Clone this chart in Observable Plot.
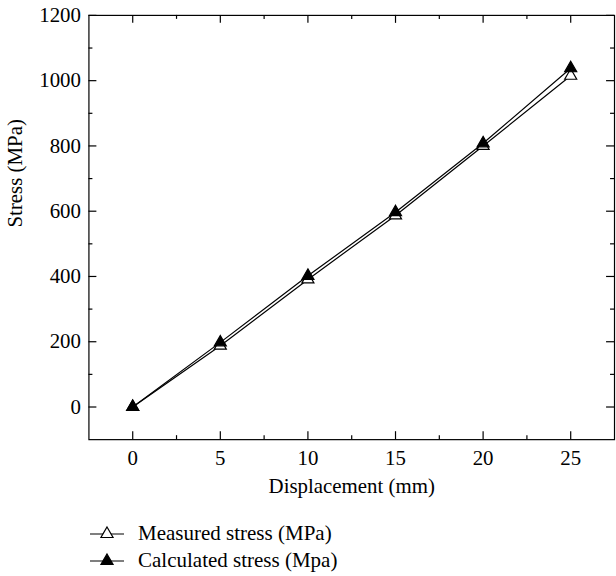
<!DOCTYPE html>
<html><head><meta charset="utf-8">
<script src="https://cdn.jsdelivr.net/npm/d3@7"></script>
<script src="https://cdn.jsdelivr.net/npm/@observablehq/plot@0.6"></script>
<style>
html,body{margin:0;padding:0;background:#fff;overflow:hidden;width:616px;height:576px}
#chart svg{display:block}
.legend{margin-left:89px;margin-top:13px;font-family:"Liberation Serif","DejaVu Serif",serif;font-size:21px;color:#000}
.row{display:flex;align-items:center;height:27px;white-space:nowrap}
.row svg{margin-right:13px;display:block}
</style></head><body><div id="chart"></div><div class="legend" id="legend"></div><script>
const displacement = [0, 5, 10, 15, 20, 25];
const measured = [0, 188, 391, 587, 800, 1015];
const calculated = [0, 198, 402, 597, 808, 1038];
const xMajor = [0, 5, 10, 15, 20, 25];
const xMinor = [2.5, 7.5, 12.5, 17.5, 22.5];
const yMajor = [0, 200, 400, 600, 800, 1000, 1200];
const yMinor = [100, 300, 500, 700, 900, 1100];
const seriesNames = ["Measured stress (MPa)", "Calculated stress (Mpa)"];
const xLabel = "Displacement (mm)";
const yLabel = "Stress (MPa)";

const FONT = '"Liberation Serif","DejaVu Serif",serif';
const W = 620, H = 510, mL = 89, mR = 2, mT = 15, mB = 68;
const FW = W - mL - mR, FH = H - mT - mB;
const MAJ = 8, MIN = 4, SW = 1.2;

const measData = displacement.map((d, i) => ({x: d, y: measured[i]}));
const calcData = displacement.map((d, i) => ({x: d, y: calculated[i]}));

const plot = Plot.plot({
  width: W, height: H,
  marginLeft: mL, marginRight: mR, marginTop: mT, marginBottom: mB,
  style: {fontFamily: FONT, fontSize: "21px", color: "black", background: "white", overflow: "visible"},
  x: {domain: [-2.5, 27.5], axis: null},
  y: {domain: [-100, 1200], axis: null},
  marks: [
    Plot.frame({stroke: "black", strokeWidth: SW}),
    Plot.tickX(xMajor, {x: d => d, stroke: "black", strokeWidth: SW, insetTop: FH - MAJ}),
    Plot.tickX(xMinor, {x: d => d, stroke: "black", strokeWidth: SW, insetTop: FH - MIN}),
    Plot.tickX(xMajor, {x: d => d, stroke: "black", strokeWidth: SW, insetBottom: FH - MAJ}),
    Plot.tickX(xMinor, {x: d => d, stroke: "black", strokeWidth: SW, insetBottom: FH - MIN}),
    Plot.tickY(yMajor, {y: d => d, stroke: "black", strokeWidth: SW, insetRight: FW - MAJ}),
    Plot.tickY(yMinor, {y: d => d, stroke: "black", strokeWidth: SW, insetRight: FW - MIN}),
    Plot.tickY(yMajor, {y: d => d, stroke: "black", strokeWidth: SW, insetLeft: FW - MAJ}),
    Plot.tickY(yMinor, {y: d => d, stroke: "black", strokeWidth: SW, insetLeft: FW - MIN}),
    Plot.axisX(xMajor, {tickSize: 0, tickPadding: 11, label: null, fill: "black", fontFamily: FONT, tickFormat: d => String(d)}),
    Plot.axisY(yMajor, {tickSize: 0, tickPadding: 8, label: null, fill: "black", fontFamily: FONT, tickFormat: d => String(d)}),
    Plot.text([xLabel], {text: d => d, frameAnchor: "bottom", dy: 54, lineAnchor: "bottom", fill: "black", fontFamily: FONT}),
    Plot.text([yLabel], {text: d => d, frameAnchor: "left", dx: -67, rotate: -90, lineAnchor: "bottom", fill: "black", fontFamily: FONT}),
    Plot.line(measData, {x: "x", y: "y", stroke: "black", strokeWidth: SW}),
    Plot.line(calcData, {x: "x", y: "y", stroke: "black", strokeWidth: SW}),
    Plot.dot(measData, {x: "x", y: "y", symbol: "triangle", r: 4.5, fill: "white", stroke: "black", strokeWidth: SW}),
    Plot.dot(calcData, {x: "x", y: "y", symbol: "triangle", r: 4.5, fill: "black", stroke: "black", strokeWidth: SW})
  ]
});
document.getElementById("chart").appendChild(plot);

const tri = d3.symbol(d3.symbolTriangle, Math.PI * 4.5 * 4.5)();
const fills = ["white", "black"];
const leg = d3.select("#legend");
seriesNames.forEach((name, i) => {
  const row = leg.append("div").attr("class", "row");
  const s = row.append("svg").attr("width", 36).attr("height", 27);
  s.append("line").attr("x1", 1).attr("x2", 35).attr("y1", 14).attr("y2", 14).attr("stroke", "black").attr("stroke-width", SW);
  s.append("path").attr("d", tri).attr("transform", "translate(18,14)").attr("fill", fills[i]).attr("stroke", "black").attr("stroke-width", SW);
  row.append("span").text(name);
});
</script></body></html>
